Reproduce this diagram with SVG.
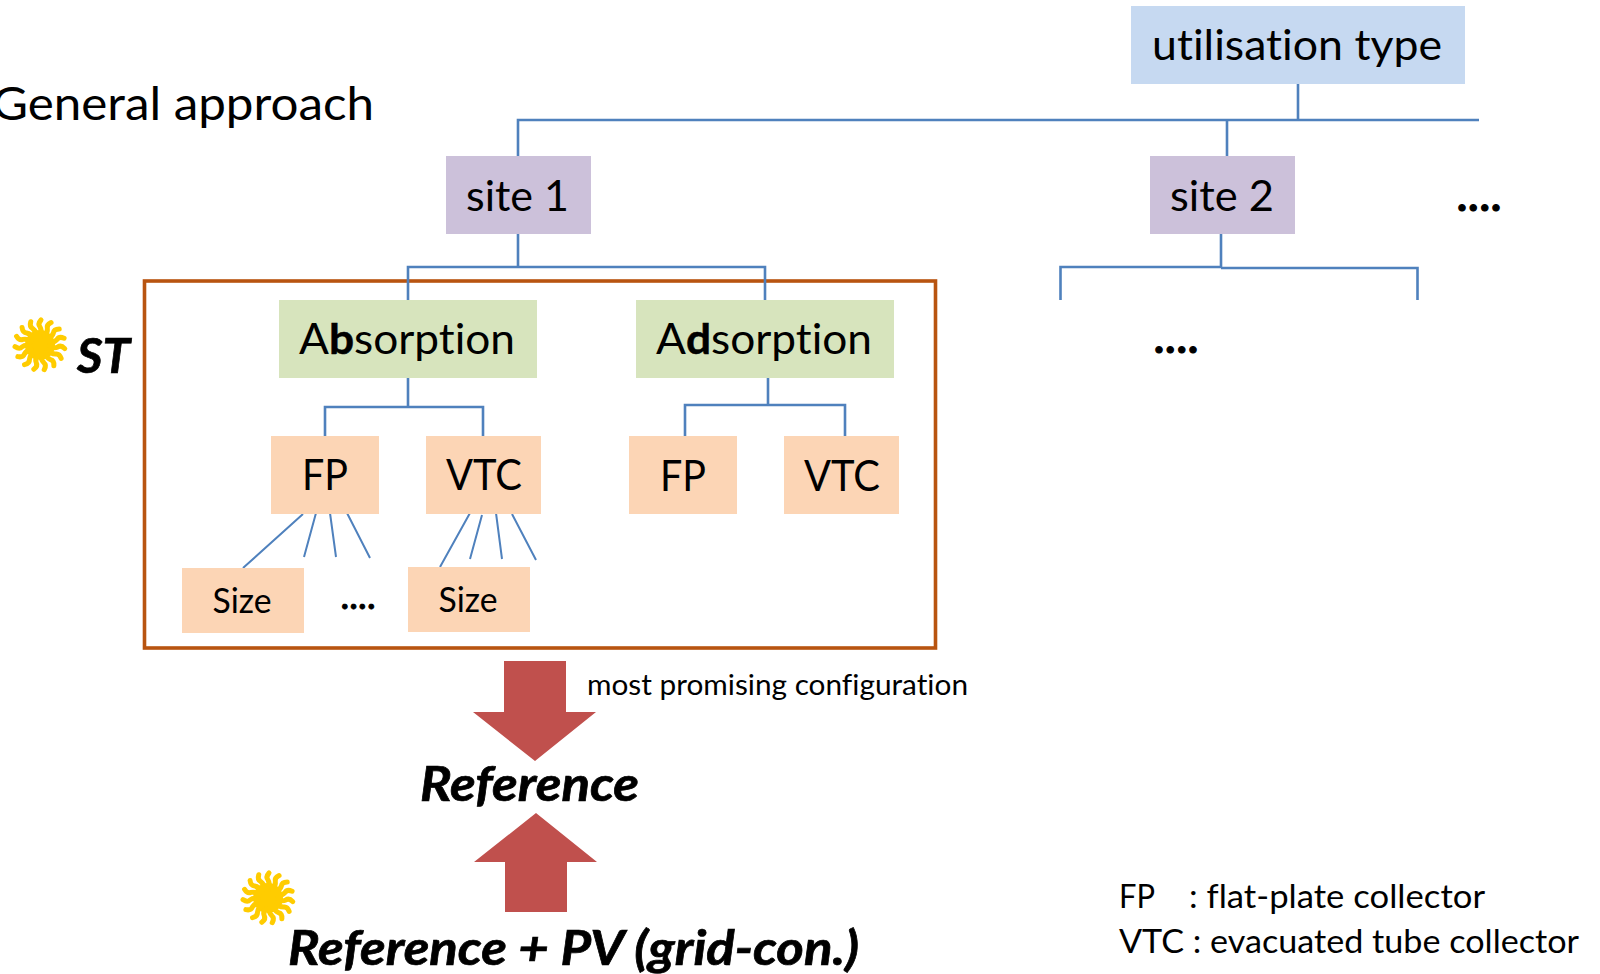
<svg xmlns="http://www.w3.org/2000/svg" xmlns:xlink="http://www.w3.org/1999/xlink" width="1600" height="974" viewBox="0 0 1600 974">
<style>
text{font-family:Lato,"Noto Sans",sans-serif;fill:#000;font-variant-ligatures:none}
.m{font-size:42px}
.c{font-size:34px}
.b{font-weight:700;stroke:#000;stroke-width:.5px}
.bi{font-weight:700;font-style:italic;font-size:47px;stroke:#000;stroke-width:.7px}
.dots{font-weight:700;font-size:42px;stroke:#000;stroke-width:1.2px}
.lnk{fill:none;stroke:#4F81BD;stroke-width:2.600}
.thin{fill:none;stroke:#4F81BD;stroke-width:2}
.site{fill:#CCC1DA}.abs{fill:#D7E4BD}.col{fill:#FCD5B5}.ut{fill:#C6D9F1}
.arr{fill:#C0504D}
</style>
<defs>
<g id="ray"><path d="M0,-10 q2.500,-4 0,-8 q-2.500,-3 1,-7" fill="none" stroke="#FFCC00" stroke-width="5" stroke-linecap="round"/></g>
<g id="sun">
<circle r="15" fill="#FFCC00"/>
<use xlink:href="#ray" transform="rotate(0)"/><use xlink:href="#ray" transform="rotate(24)"/><use xlink:href="#ray" transform="rotate(48)"/><use xlink:href="#ray" transform="rotate(72)"/>
<use xlink:href="#ray" transform="rotate(96)"/><use xlink:href="#ray" transform="rotate(120)"/><use xlink:href="#ray" transform="rotate(144)"/><use xlink:href="#ray" transform="rotate(168)"/>
<use xlink:href="#ray" transform="rotate(192)"/><use xlink:href="#ray" transform="rotate(216)"/><use xlink:href="#ray" transform="rotate(240)"/><use xlink:href="#ray" transform="rotate(264)"/>
<use xlink:href="#ray" transform="rotate(288)"/><use xlink:href="#ray" transform="rotate(312)"/><use xlink:href="#ray" transform="rotate(336)"/>
</g>
</defs>
<rect width="1600" height="974" fill="#fff"/>
<text id="title" x="-8" y="120" font-size="46" textLength="382" lengthAdjust="spacingAndGlyphs">General approach</text>
<rect id="frame" x="144.500" y="281" width="791" height="367" fill="none" stroke="#B85410" stroke-width="3.600"/>
<g id="connectors">
<path class="lnk" d="M1298,84V120M518,156V120H1479M1227,156V120"/>
<path class="lnk" d="M518,234V267M408,300V267H765V300"/>
<path class="lnk" d="M1221,234V267H1060.500V300M1221,268H1417.500V300"/>
<path class="lnk" d="M408,378V407M325,436V407H483V436"/>
<path class="lnk" d="M768,378V405M685,436V405H845V436"/>
<path class="thin" d="M303,514L243,568M316,513L304,557M330,513L336,557M347,513L370,558"/>
<path class="thin" d="M470,513L440,567M482,515L470,559M496,513L502,559M512,514L536,560"/>
</g>
<g id="utilisation"><rect class="ut" x="1131" y="6" width="334" height="78"/><text class="m" x="1152" y="60" textLength="290" lengthAdjust="spacingAndGlyphs">utilisation type</text></g>
<g id="site1"><rect class="site" x="446" y="156" width="145" height="78"/><text class="m" x="466" y="211" textLength="103" lengthAdjust="spacingAndGlyphs">site 1</text></g>
<g id="site2"><rect class="site" x="1150" y="156" width="145" height="78"/><text class="m" x="1170" y="211" textLength="104" lengthAdjust="spacingAndGlyphs">site 2</text></g>
<g id="absorption"><rect class="abs" x="279" y="300" width="258" height="78"/><text class="m" x="299" y="354" textLength="216" lengthAdjust="spacingAndGlyphs">A<tspan class="b">b</tspan>sorption</text></g>
<g id="adsorption"><rect class="abs" x="636" y="300" width="258" height="78"/><text class="m" x="656" y="354" textLength="216" lengthAdjust="spacingAndGlyphs">A<tspan class="b">d</tspan>sorption</text></g>
<g id="fp1"><rect class="col" x="271" y="436" width="108" height="78"/><text class="m" x="325" y="490" text-anchor="middle" textLength="46" lengthAdjust="spacingAndGlyphs">FP</text></g>
<g id="vtc1"><rect class="col" x="426" y="436" width="115" height="78"/><text class="m" x="484" y="490" text-anchor="middle" textLength="76" lengthAdjust="spacingAndGlyphs">VTC</text></g>
<g id="fp2"><rect class="col" x="629" y="436" width="108" height="78"/><text class="m" x="683" y="491" text-anchor="middle" textLength="46" lengthAdjust="spacingAndGlyphs">FP</text></g>
<g id="vtc2"><rect class="col" x="784" y="436" width="115" height="78"/><text class="m" x="842" y="491" text-anchor="middle" textLength="76" lengthAdjust="spacingAndGlyphs">VTC</text></g>
<g id="size1"><rect class="col" x="182" y="568" width="122" height="65"/><text class="c" x="242" y="613" text-anchor="middle" textLength="59" lengthAdjust="spacingAndGlyphs">Size</text></g>
<g id="size2"><rect class="col" x="408" y="567" width="122" height="65"/><text class="c" x="468" y="612" text-anchor="middle" textLength="59" lengthAdjust="spacingAndGlyphs">Size</text></g>
<text id="dots1" class="dots" x="341" y="609" style="font-size:32px;stroke-width:.9px" textLength="34">....</text>
<text id="dots2" class="dots" x="1457" y="211" textLength="44">....</text>
<text id="dots3" class="dots" x="1154" y="353" textLength="44">....</text>
<use id="sun1" xlink:href="#sun" x="40" y="345"/>
<text id="st" class="bi" x="77" y="373" textLength="53" lengthAdjust="spacingAndGlyphs">ST</text>
<polygon id="arrow-down" class="arr" points="504,661 566,661 566,712 596,712 535,761 473,712 504,712"/>
<text id="note" x="587" y="695" font-size="29" textLength="381" lengthAdjust="spacingAndGlyphs">most promising configuration</text>
<text id="reference" class="bi" x="420" y="801" textLength="219" lengthAdjust="spacingAndGlyphs">Reference</text>
<polygon id="arrow-up" class="arr" points="536,813 597,862 567,862 567,912 505,912 505,862 474,862"/>
<use id="sun2" xlink:href="#sun" x="268" y="898"/>
<text id="reference-pv" class="bi" x="288" y="965" textLength="571" lengthAdjust="spacingAndGlyphs">Reference + PV (grid-con.)</text>
<g id="legend">
<text x="1119" y="908" font-size="32" textLength="36" lengthAdjust="spacingAndGlyphs">FP</text>
<text x="1189" y="908" font-size="32" textLength="296" lengthAdjust="spacingAndGlyphs">: flat-plate collector</text>
<text x="1119" y="953" font-size="32" textLength="460" lengthAdjust="spacingAndGlyphs">VTC : evacuated tube collector</text>
</g>
</svg>
